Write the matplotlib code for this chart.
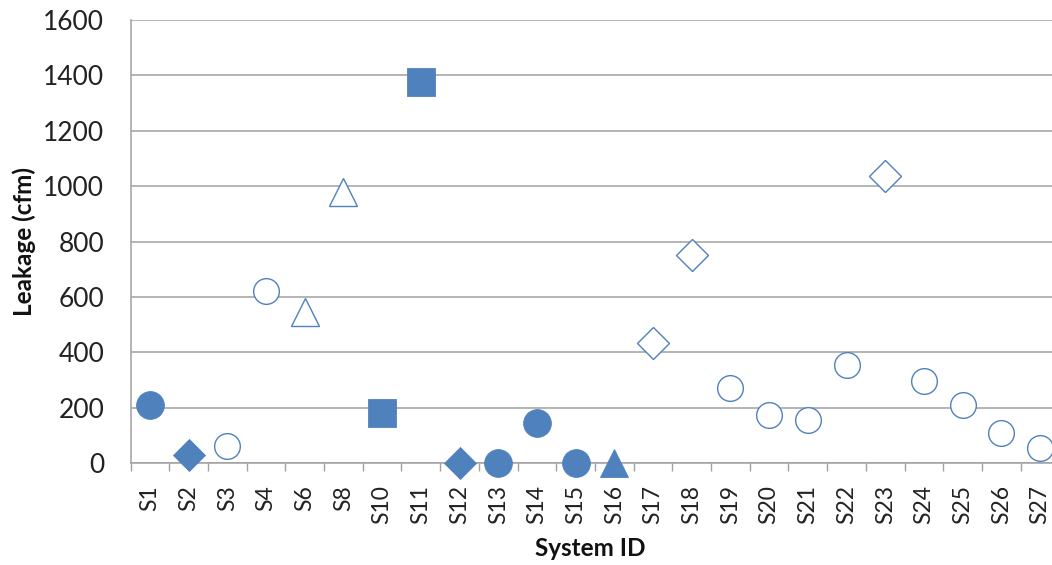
import matplotlib
matplotlib.use("Agg")
import matplotlib.pyplot as plt
import numpy as np

systems = ["S1", "S2", "S3", "S4", "S6", "S8", "S10", "S11", "S12", "S13", "S14", "S15",
           "S16", "S17", "S18", "S19", "S20", "S21", "S22", "S23", "S24", "S25", "S26", "S27"]
leakage = [210, 30, 60, 620, 545, 980, 180, 1375, 0, 0, 145, 0,
           0, 435, 750, 270, 175, 155, 355, 1035, 295, 210, 110, 55]
shapes = ["o", "D", "o", "o", "^", "^", "s", "s", "D", "o", "o", "o",
          "^", "D", "D", "o", "o", "o", "o", "D", "o", "o", "o", "o"]
filled = [True, True, False, False, False, False, True, True, True, True, True, True,
          True, False, False, False, False, False, False, False, False, False, False, False]
yticks = [0, 200, 400, 600, 800, 1000, 1200, 1400, 1600]

BLUE = "#4F81BD"
GRID = "#A0A0A0"
plt.rcParams["font.family"] = ["Lato", "DejaVu Sans"]

fig = plt.figure(figsize=(10.52, 5.65), dpi=100)
ax = fig.add_axes([130.6 / 1052, 1 - 463 / 565, 928.8 / 1052, 443 / 565])

x = np.arange(len(systems))
sizes = {"o": 20.0, "D": 16.5, "^": 20.5, "s": 19.5}
open_sizes = {"o": 18.5, "D": 16.0, "^": 20.5, "s": 19.0}
for xi, yi, m, f in zip(x, leakage, shapes, filled):
    if f:
        ax.plot(xi, yi, marker=m, linestyle="none", markersize=sizes[m],
                markerfacecolor=BLUE, markeredgecolor=BLUE, markeredgewidth=0.6,
                clip_on=False, zorder=3)
    else:
        ax.plot(xi, yi, marker=m, linestyle="none", markersize=open_sizes[m],
                markerfacecolor="white", markeredgecolor=BLUE, markeredgewidth=1.0,
                clip_on=False, zorder=3)

ax.set_xlim(-0.5, len(systems) - 0.5)
ax.set_ylim(0, 1600)
ax.set_yticks(yticks)
ax.set_yticklabels([str(v) for v in yticks], fontsize=19)
ax.tick_params(axis="y", length=0, pad=19, colors="#222222")
ax.yaxis.grid(True, color=GRID, linewidth=1.1)
ax.set_axisbelow(True)

ax.set_xticks(x)
ax.set_xticklabels(systems, rotation=90, fontsize=16.5)
ax.tick_params(axis="x", which="major", length=0, pad=16, colors="#222222")
ax.set_xticks(np.arange(-0.5, len(systems) + 0.5, 1), minor=True)
ax.tick_params(axis="x", which="minor", length=6, width=1, color=GRID, direction="out")

for s in ["top", "right"]:
    ax.spines[s].set_visible(False)
for s in ["left", "bottom"]:
    ax.spines[s].set_color(GRID)
    ax.spines[s].set_linewidth(1.1)

fig.text(24 / 1052, 1 - 241 / 565, "Leakage (cfm)", rotation=90, fontsize=17.5,
         fontweight="bold", ha="center", va="center", color="#111111")
fig.text(590 / 1052, 1 - 549 / 565, "System ID", fontsize=17.5,
         fontweight="bold", ha="center", va="center", color="#111111")

fig.savefig("out.png", dpi=100)
